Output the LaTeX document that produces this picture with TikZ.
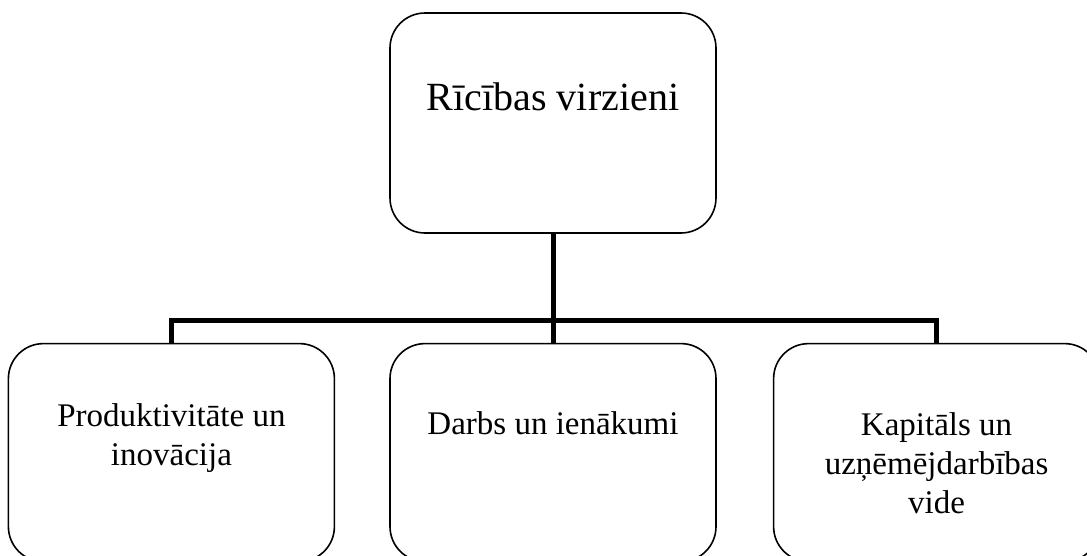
\documentclass[tikz,border=0pt]{standalone}
\usepackage{fontspec}
\setmainfont{Liberation Serif}
\usetikzlibrary{positioning}
\tikzset{
  rootbox/.style={
    rectangle,
    rounded corners=35pt,
    draw=black, line width=1.6pt,
    minimum width=326pt,
    minimum height=220pt,
    inner sep=0pt,
    align=center,
    font=\fontsize{40}{48}\selectfont},
  areabox/.style={
    rectangle,
    rounded corners=35pt,
    draw=black, line width=1.6pt,
    minimum width=326pt,
    minimum height=218pt,
    inner sep=0pt,
    align=center,
    font=\fontsize{33}{39}\selectfont},
  link/.style={draw, line width=5pt}
}

\begin{document}
\begin{tikzpicture}
  [node distance=109pt]

  \useasboundingbox (0,0) rectangle (1087pt,-555pt);
  \clip (0,0) rectangle (1087pt,-555pt);

  \node[rootbox, text height=97pt, text depth=123pt] (virzieni) at (553pt,-123pt) {R\={\i}c\={\i}bas virzieni};

  \node[areabox, below=of virzieni, text height=91pt, text depth=127pt] (darbs) {Darbs un ien\=akumi};
  \node[areabox, left=54pt of darbs, text height=122pt, text depth=96pt] (produkt) {Produktivit\=ate un\\inov\=acija};
  \node[areabox, right=56pt of darbs, text height=170pt, text depth=48pt] (kapitals) {Kapit\=als un\\uz\c{n}\=em\=ejdarb\={\i}bas\\vide};

  % tree connectors
  \coordinate[below=87pt of virzieni.south] (fork);
  \draw[link] (virzieni.south) -- (fork);
  \draw[link] (fork) -| (produkt.north);
  \draw[link] (fork) -| (kapitals.north);
  \draw[link] (fork) -- (darbs.north);
\end{tikzpicture}
\end{document}
